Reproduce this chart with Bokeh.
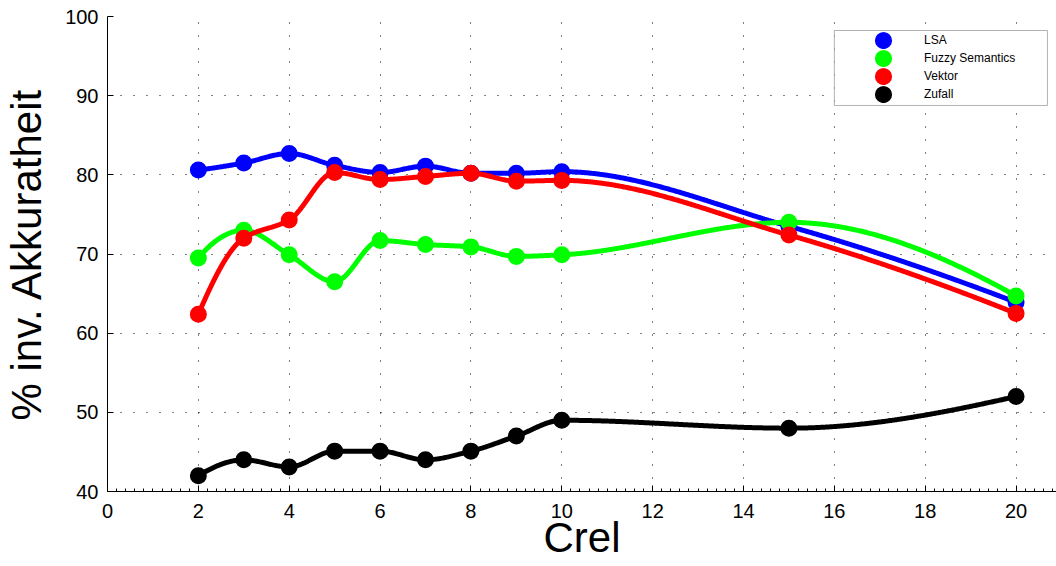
import numpy as np
from bokeh.plotting import figure
from bokeh.models import Range1d, Legend, LegendItem, BoxAnnotation, FixedTicker
from bokeh.embed import file_html
from bokeh.resources import INLINE

# ---- data ----
crel = [2, 3, 4, 5, 6, 7, 8, 9, 10, 15, 20]
lsa = [80.6, 81.5, 82.7, 81.2, 80.3, 81.1, 80.2, 80.2, 80.4, 73.5, 63.9]
fuzzy = [69.5, 73.0, 69.9, 66.5, 71.7, 71.2, 70.9, 69.7, 69.9, 74.0, 64.7]
vektor = [62.4, 72.0, 74.3, 80.3, 79.4, 79.8, 80.2, 79.2, 79.3, 72.4, 62.5]
zufall = [42.0, 44.0, 43.1, 45.1, 45.1, 44.0, 45.1, 47.0, 49.0, 48.0, 52.0]
series_names = ["LSA", "Fuzzy Semantics", "Vektor", "Zufall"]
series_colors = ["#0000FF", "#00FF00", "#FF0000", "#000000"]
x_ticks = [0, 2, 4, 6, 8, 10, 12, 14, 16, 18, 20]
y_ticks = [40, 50, 60, 70, 80, 90, 100]
x_label = "Crel"
y_label = "% inv. Akkuratheit"


def pchip(x, y, xs):
    """Shape-preserving piecewise cubic (as MATLAB pchip), only to draw the connecting curve."""
    x = np.asarray(x, float)
    y = np.asarray(y, float)
    n = len(x)
    h = np.diff(x)
    dl = np.diff(y) / h
    d = np.zeros(n)
    for k in range(1, n - 1):
        if dl[k - 1] * dl[k] > 0:
            w1 = 2 * h[k] + h[k - 1]
            w2 = h[k] + 2 * h[k - 1]
            d[k] = (w1 + w2) / (w1 / dl[k - 1] + w2 / dl[k])

    def end(h0, h1, d0, d1):
        s = ((2 * h0 + h1) * d0 - h0 * d1) / (h0 + h1)
        if np.sign(s) != np.sign(d0):
            s = 0.0
        elif np.sign(d0) != np.sign(d1) and abs(s) > abs(3 * d0):
            s = 3 * d0
        return s

    d[0] = end(h[0], h[1], dl[0], dl[1])
    d[-1] = end(h[-1], h[-2], dl[-1], dl[-2])
    idx = np.clip(np.searchsorted(x, xs) - 1, 0, n - 2)
    hk = h[idx]
    t = (xs - x[idx]) / hk
    h00 = 2 * t**3 - 3 * t**2 + 1
    h10 = t**3 - 2 * t**2 + t
    h01 = -2 * t**3 + 3 * t**2
    h11 = t**3 - t**2
    return h00 * y[idx] + h10 * hk * d[idx] + h01 * y[idx + 1] + h11 * hk * d[idx + 1]


FONT = "Liberation Sans"
X0, X1 = 0, 20.89
Y0, Y1 = 40, 100

p = figure(width=1056, height=566, output_backend="svg", toolbar_location=None,
           x_range=Range1d(X0, X1), y_range=Range1d(Y0, Y1),
           min_border_left=107, min_border_right=0, min_border_top=16, min_border_bottom=75)
p.background_fill_color = "white"
p.border_fill_color = "white"
p.outline_line_color = None

# axes
p.xaxis.ticker = FixedTicker(ticks=x_ticks, minor_ticks=list(np.round(np.arange(0, 20.9, 0.2), 2)))
p.yaxis.ticker = FixedTicker(ticks=y_ticks)
for ax in (p.xaxis[0], p.yaxis[0]):
    ax.axis_line_color = "black"
    ax.axis_line_width = 1
    ax.major_tick_in = 6
    ax.major_tick_out = 0
    ax.major_tick_line_color = "black"
    ax.minor_tick_in = 3
    ax.minor_tick_out = 0
    ax.minor_tick_line_color = "black"
    ax.major_label_text_font = FONT
    ax.major_label_text_font_size = "20px"
    ax.major_label_text_color = "black"
    ax.axis_label_text_font = FONT
    ax.axis_label_text_font_size = "42px"
    ax.axis_label_text_font_style = "normal"
    ax.axis_label_text_color = "black"
p.yaxis.minor_tick_line_color = None
p.yaxis.major_label_standoff = 9
p.xaxis.major_label_standoff = 12
p.yaxis.axis_label = y_label
p.yaxis.axis_label_standoff = 12
p.xaxis.axis_label = x_label
p.xaxis.axis_label_standoff = -7

# grid
for g in (p.xgrid[0], p.ygrid[0]):
    g.grid_line_color = "black"
    g.grid_line_dash = "1 12"
    g.grid_line_width = 1
p.xgrid.ticker = FixedTicker(ticks=x_ticks)
p.ygrid.ticker = FixedTicker(ticks=y_ticks)

# series
xs = np.linspace(crel[0], crel[-1], 800)
items = []
for name, vals, col in zip(series_names, [lsa, fuzzy, vektor, zufall], series_colors):
    p.line(xs, pchip(crel, vals, xs), line_color=col, line_width=5)
    r = p.scatter(crel, vals, size=7, line_width=10, fill_color=col, line_color=col,
                  marker="circle")
    items.append(LegendItem(label=name, renderers=[r]))

# legend frame
box = BoxAnnotation(left=16.0, right=20.69, bottom=88.76, top=98.23,
                    fill_color="white", fill_alpha=1.0, line_color="black", line_width=1)
p.add_layout(box)

legend = Legend(items=items, location=(755, 388), orientation="vertical",
                glyph_width=42, glyph_height=18, label_height=18, spacing=0, padding=0,
                margin=0, label_standoff=20, label_text_font=FONT, label_text_font_size="12px",
                label_text_color="black", border_line_alpha=0, background_fill_alpha=0)
p.add_layout(legend)

open("out.html", "w").write(file_html(p, INLINE))
